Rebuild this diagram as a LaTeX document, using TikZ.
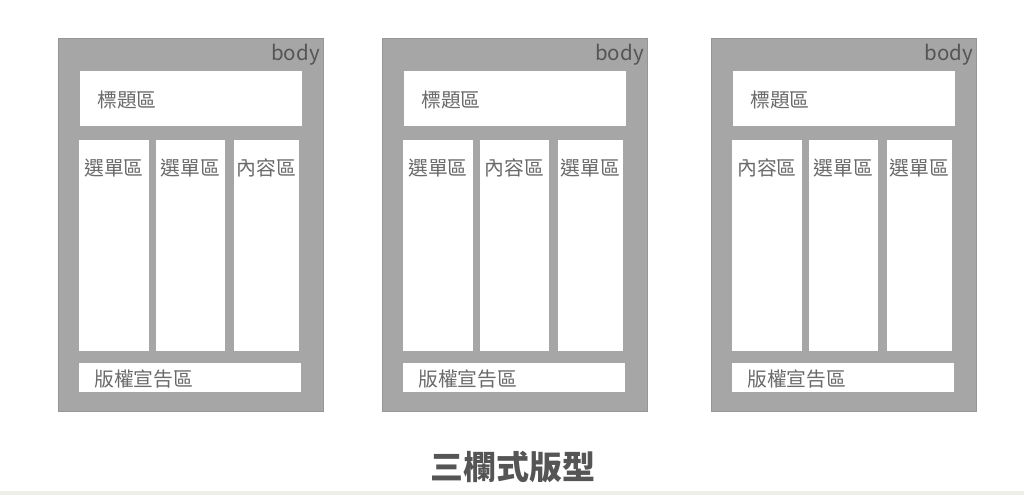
\documentclass[tikz,border=0pt]{standalone}
\usepackage{fontspec}
\setmainfont{Noto Sans CJK TC}
\definecolor{bodygray}{HTML}{A6A6A6}
\definecolor{bodyedge}{HTML}{969696}
\definecolor{txtgray}{HTML}{6A6A6A}
\definecolor{bodytxt}{HTML}{555555}
\definecolor{basestrip}{HTML}{EDEFE8}
\newcommand\drawpanel[5]{%
  \begin{scope}[shift={(#2,39)}]
    \node[bodybox, minimum width=265pt, minimum height=372pt] (#1body) at (0,0) {};
    \node[anchor=north east, bodylabel] (#1bodytxt) at (263,4) {body};
    \node[areabox, minimum width=222pt, minimum height=55pt] (#1title) at (22,32) {};
    \node[arealabel, anchor=west] (#1titletxt) at (39,61) {標題區};
    \node[areabox, minimum width=70pt, minimum height=211pt] (#1colA) at (21,101) {};
    \node[areabox, minimum width=69pt, minimum height=211pt] (#1colB) at (98,101) {};
    \node[areabox, minimum width=65pt, minimum height=211pt] (#1colC) at (176,101) {};
    \node[arealabel] (#1colAtxt) at (56,129) {#3};
    \node[arealabel] (#1colBtxt) at (132.5,129) {#4};
    \node[arealabel] (#1colCtxt) at (208.5,129) {#5};
    \node[areabox, minimum width=222pt, minimum height=29pt] (#1foot) at (21,324) {};
    \node[arealabel, anchor=west] (#1foottxt) at (36,340) {版權宣告區};
  \end{scope}}
\begin{document}
\begin{tikzpicture}[x=1pt, y=-1pt,
  bodybox/.style={draw=bodyedge, fill=bodygray, line width=1pt, anchor=north west, inner sep=0pt, outer sep=0pt},
  areabox/.style={fill=white, draw=none, anchor=north west, inner sep=0pt, outer sep=0pt},
  arealabel/.style={text=txtgray, font=\fontsize{19.8}{21}\selectfont, inner sep=0pt},
  bodylabel/.style={text=bodytxt, font=\fontsize{20.5}{22}\selectfont, inner sep=1pt},
  heading/.style={text=bodytxt, font=\fontsize{33}{36}\selectfont\bfseries, inner sep=0pt}]
\useasboundingbox (0,0) rectangle (1024,495);
\fill[white] (0,0) rectangle (1024,495);
\fill[basestrip] (0,491) rectangle (1024,495);
\drawpanel{p}{58}{選單區}{選單區}{內容區}
\drawpanel{q}{382}{選單區}{內容區}{選單區}
\drawpanel{r}{711}{內容區}{選單區}{選單區}
\node[heading] (heading) at (513,467) {三欄式版型};
\end{tikzpicture}
\end{document}
